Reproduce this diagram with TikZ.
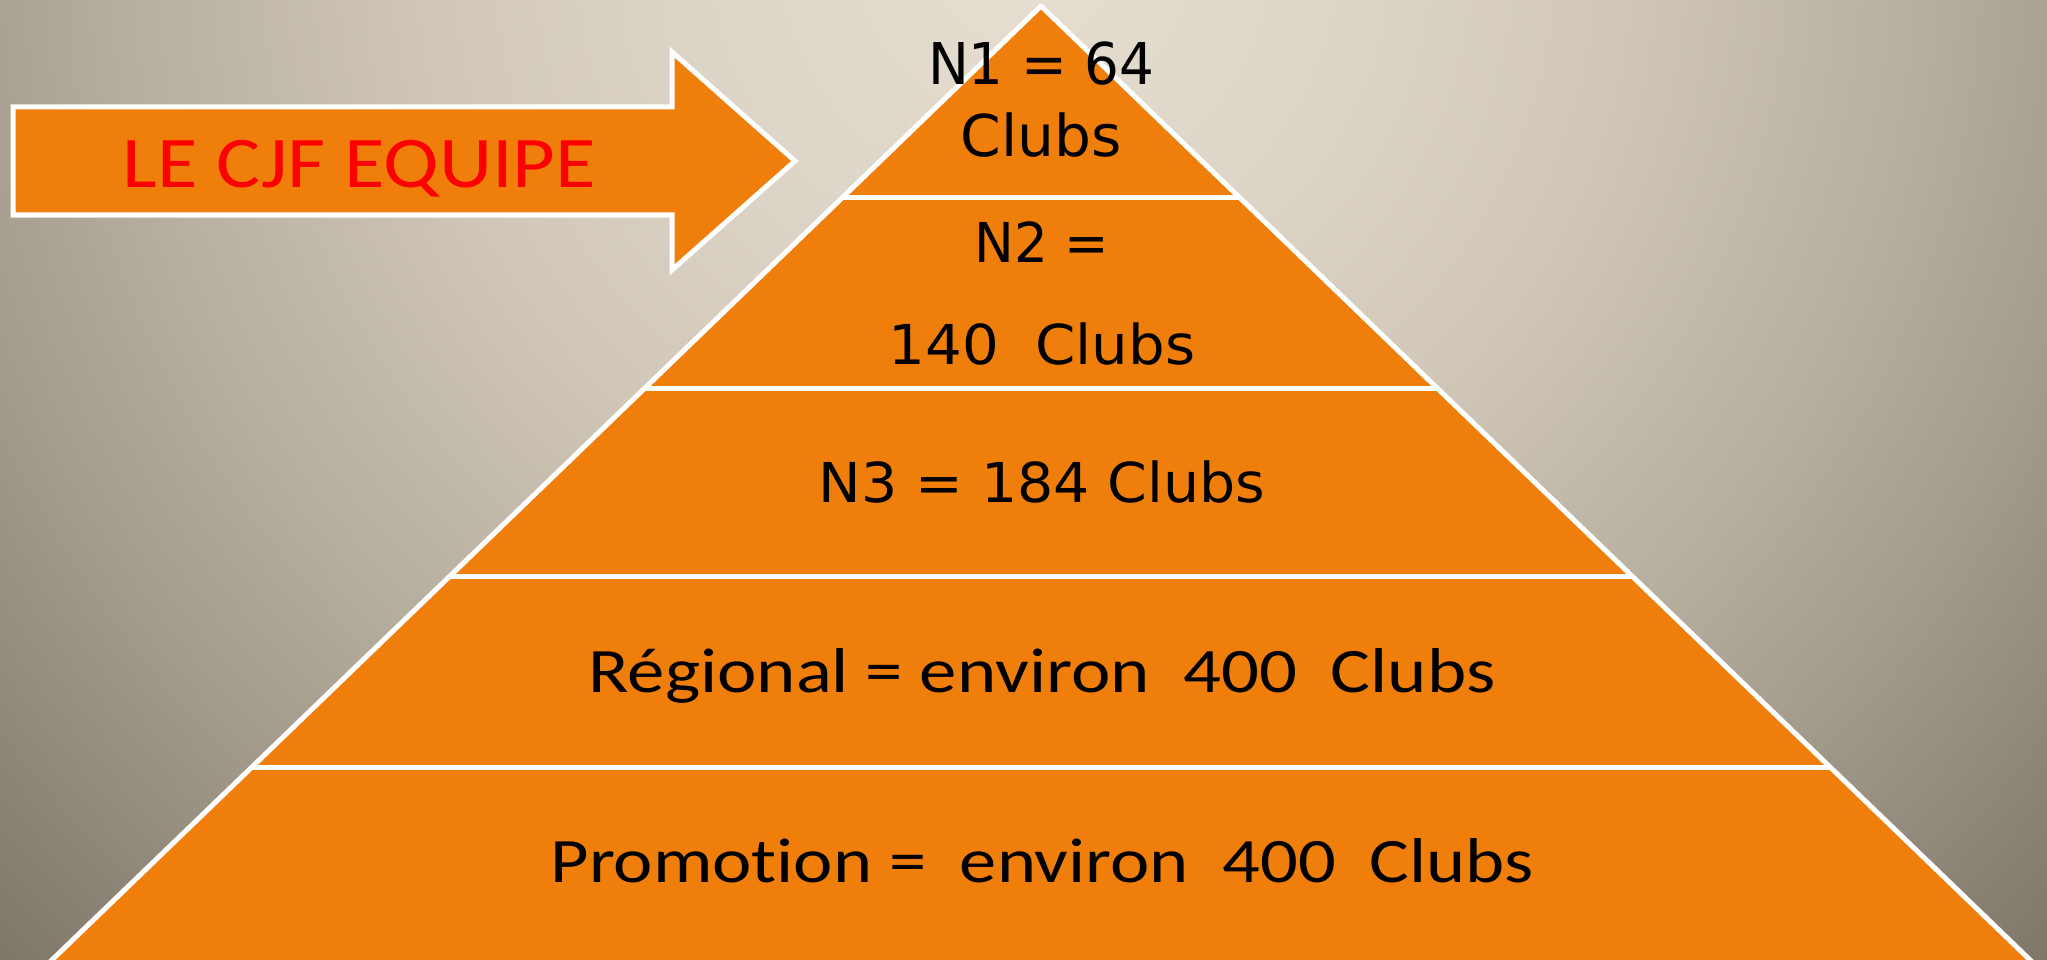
\documentclass[tikz,border=0pt]{standalone}
\usepackage{fontspec}
\usepackage{graphicx}
\newfontfamily\calfont[Ligatures={NoCommon}]{Carlito}
\newfontfamily\djfont{DejaVu Sans}
\definecolor{orng}{HTML}{EF7F0A}
\definecolor{txtred}{HTML}{FF0000}
\definecolor{bgA}{HTML}{E6DED1}
\definecolor{bgB}{HTML}{DED6C9}
\definecolor{bgC}{HTML}{D0C7B8}
\definecolor{bgD}{HTML}{B6AE9E}
\definecolor{bgE}{HTML}{A39B8C}
\definecolor{bgF}{HTML}{7E7668}
\pgfdeclareradialshading{bgshade}{\pgfpoint{0bp}{0bp}}{color(0bp)=(bgA); color(5bp)=(bgB); color(10bp)=(bgC); color(15bp)=(bgD); color(18.3bp)=(bgE); color(24bp)=(bgF); color(50bp)=(bgF)}
\newcommand\fitw[2]{\resizebox{#1}{\height}{#2}}
\begin{document}
\begin{tikzpicture}[x=1pt,y=-1pt,
  lbl/.style={anchor=base,inner sep=0pt,outer sep=0pt,text=black},
  dj/.style={lbl,font=\djfont\fontsize{55}{60}\selectfont},
  cal/.style={lbl,font=\calfont\fontsize{63.3}{70}\selectfont},
  band/.style={draw=white,line width=5pt},
  shapeline/.style={draw=white,line width=5pt,line join=miter,fill=orng}]
\useasboundingbox (0,0) rectangle (2047,960);
\begin{scope}
  \clip (0,0) rectangle (2047,960);
  \shade[shading=bgshade] (-476,-1550) rectangle (2524,1450);
  % pyramid
  \coordinate (apex) at (1041,6);
  \coordinate (bl) at (-2,1012);
  \coordinate (br) at (2084,1012);
  \path[shapeline,line join=round] (apex) -- (br) -- (bl) -- cycle;
  \coordinate (s1l) at (841.2,198); \coordinate (s1r) at (1240.8,198);
  \coordinate (s2l) at (644.6,388); \coordinate (s2r) at (1437.4,388);
  \coordinate (s3l) at (450,576);   \coordinate (s3r) at (1632,576);
  \coordinate (s4l) at (252.3,767); \coordinate (s4r) at (1829.7,767);
  \draw[band] (s1l) -- (s1r);
  \draw[band] (s2l) -- (s2r);
  \draw[band] (s3l) -- (s3r);
  \draw[band] (s4l) -- (s4r);
  % arrow
  \path[shapeline] (13,107) -- (672,107) -- (672,52) -- (795,161) -- (672,270) -- (672,215) -- (13,215) -- cycle;
\end{scope}
\node[lbl,text=txtred,font=\calfont\fontsize{72.8}{80}\selectfont] (arrowtxt) at (359.5,188) {\fitw{473pt}{LE CJF EQUIPE}};
\node[dj,font=\djfont\fontsize{57.6}{60}\selectfont] (n1a) at (1041,85) {\fitw{226pt}{N1 = 64}};
\node[dj,font=\djfont\fontsize{57.6}{60}\selectfont] (n1b) at (1041,157) {\fitw{161pt}{Clubs}};
\node[dj] (n2a) at (1042,262) {\fitw{135pt}{N2 =}};
\node[dj] (n2b) at (1042,364) {\fitw{307pt}{140\ \ Clubs}};
\node[dj] (n3) at (1042,502) {\fitw{447pt}{N3 = 184 Clubs}};
\node[cal] (reg) at (1042,692) {\fitw{907pt}{Régional = environ\ \ 400\ \ Clubs}};
\node[cal] (promo) at (1042,882) {\fitw{983pt}{Promotion =\ \ environ\ \ 400\ \ Clubs}};
\end{tikzpicture}
\end{document}
